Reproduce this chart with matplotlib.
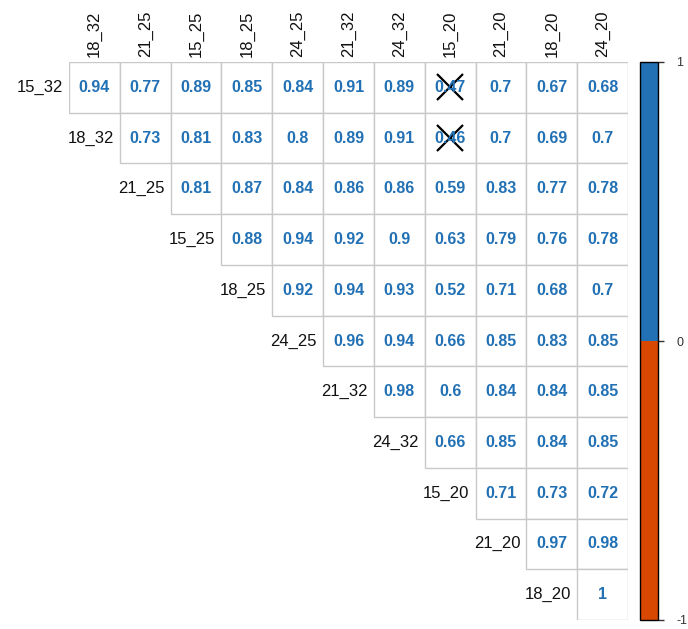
import numpy as np
import matplotlib
matplotlib.use("Agg")
import matplotlib.pyplot as plt
from matplotlib.patches import Rectangle
from matplotlib.colors import ListedColormap, BoundaryNorm
import matplotlib.colorbar as mcolorbar

plt.rcParams['font.family'] = ['Liberation Sans', 'DejaVu Sans']

# etiquetas das linhas e colunas
linhas = ['15_32', '18_32', '21_25', '15_25', '18_25', '24_25',
          '21_32', '24_32', '15_20', '21_20', '18_20']
colunas = ['18_32', '21_25', '15_25', '18_25', '24_25', '21_32',
           '24_32', '15_20', '21_20', '18_20', '24_20']

# valores da matriz triangular superior (por linha)
valores = [
    [0.94, 0.77, 0.89, 0.85, 0.84, 0.91, 0.89, 0.47, 0.7, 0.67, 0.68],
    [0.73, 0.81, 0.83, 0.8, 0.89, 0.91, 0.46, 0.7, 0.69, 0.7],
    [0.81, 0.87, 0.84, 0.86, 0.86, 0.59, 0.83, 0.77, 0.78],
    [0.88, 0.94, 0.92, 0.9, 0.63, 0.79, 0.76, 0.78],
    [0.92, 0.94, 0.93, 0.52, 0.71, 0.68, 0.7],
    [0.96, 0.94, 0.66, 0.85, 0.83, 0.85],
    [0.98, 0.6, 0.84, 0.84, 0.85],
    [0.66, 0.85, 0.84, 0.85],
    [0.71, 0.73, 0.72],
    [0.97, 0.98],
    [1],
]

# celulas nao significativas (linha, coluna)
nao_sig = [(0, 7), (1, 7)]

azul = '#2271b5'
laranja = '#d94801'

fig = plt.figure(figsize=(6.88, 6.29), dpi=100)
W, H = 688, 629

# eixo principal cobrindo a grade
x0, x1, y0, y1 = 69, 628, 62, 620
ax = fig.add_axes([x0 / W, 1 - y1 / H, (x1 - x0) / W, (y1 - y0) / H])
n = len(colunas)
ax.set_xlim(-0.5, n - 0.5)
ax.set_ylim(len(linhas) - 0.5, -0.5)
ax.axis('off')

for i, linha in enumerate(valores):
    for k, v in enumerate(linha):
        j = i + k
        ax.add_patch(Rectangle((j - 0.5, i - 0.5), 1, 1, facecolor='white',
                               edgecolor='#c8c8c8', linewidth=1.0))
        cor = azul if v >= 0 else laranja
        ax.text(j, i, f'{v:g}', ha='center', va='center', color=cor,
                fontsize=11.5, fontweight='bold')
    ax.text(i - 0.62, i, linhas[i], ha='right', va='center',
            fontsize=12, color='#111111')

for j, c in enumerate(colunas):
    ax.text(j, -0.6, c, ha='center', va='bottom', rotation=90,
            fontsize=12, color='#111111', clip_on=False)

for (i, j) in nao_sig:
    ax.plot(j, i, marker='x', color='black', markersize=19,
            markeredgewidth=1.6, linestyle='none')

# barra de cores
cax = fig.add_axes([640 / W, 1 - 620 / H, 18 / W, (620 - 62) / H])
cmap = ListedColormap([laranja, azul])
norm = BoundaryNorm([-1, 0, 1], cmap.N)
cb = mcolorbar.ColorbarBase(cax, cmap=cmap, norm=norm, orientation='vertical',
                            ticks=[-1, 0, 1])
cb.outline.set_linewidth(1.0)
cb.ax.tick_params(length=4, width=1, labelsize=9, colors='#333333', pad=9)
cb.ax.set_yticklabels(['-1', '0', '1'])

fig.savefig('out.png', dpi=100)
